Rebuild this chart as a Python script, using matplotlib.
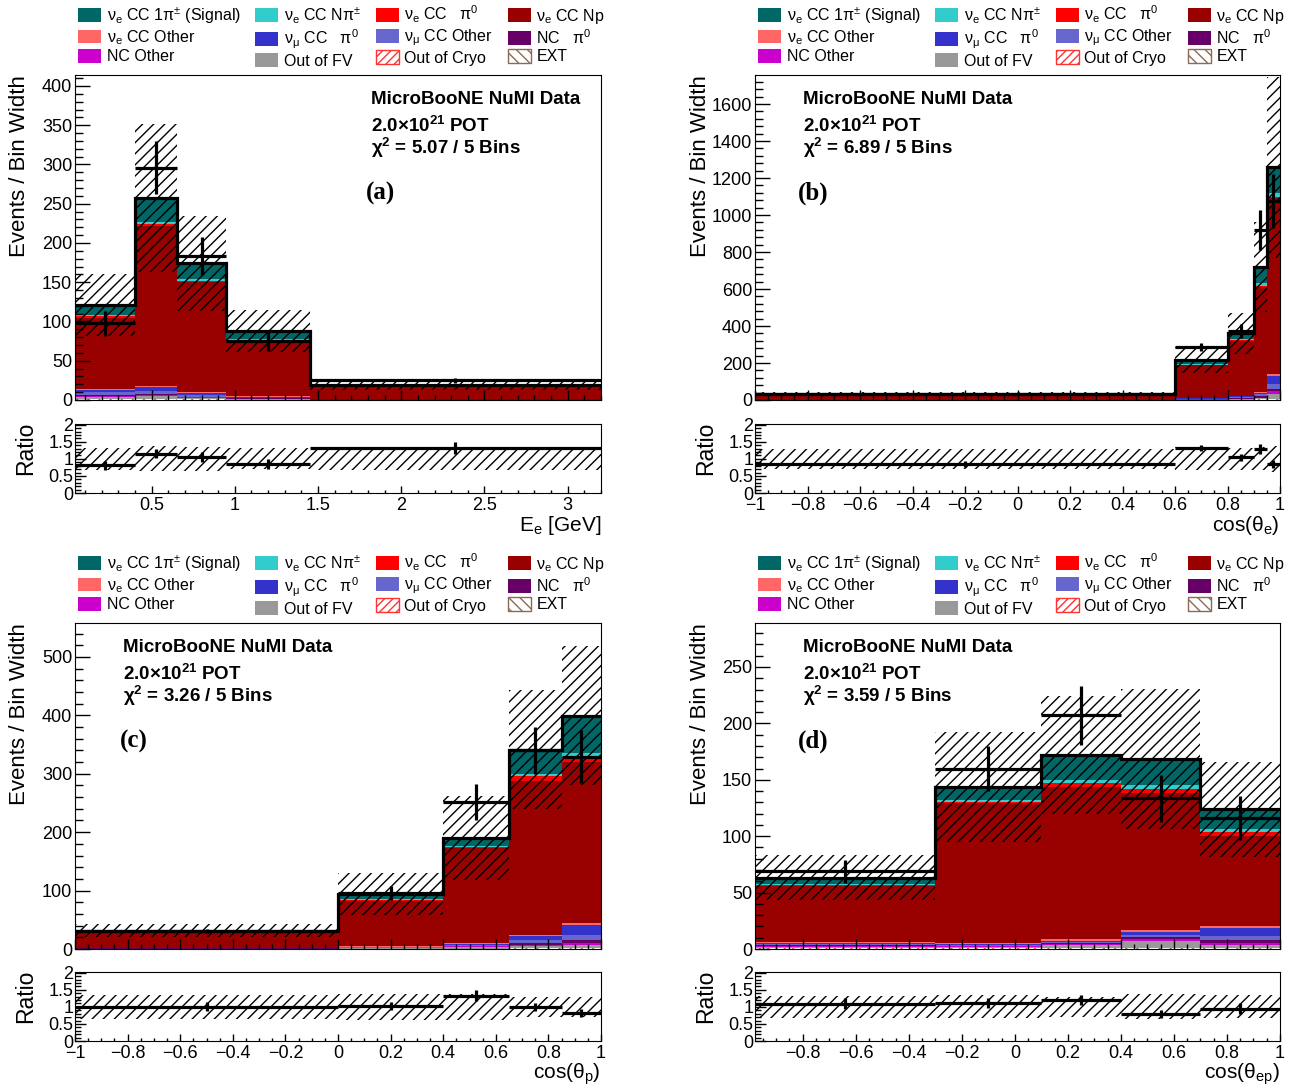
import numpy as np
import matplotlib
matplotlib.use('Agg')
import matplotlib.pyplot as plt
from matplotlib.patches import Patch
from matplotlib.ticker import MultipleLocator, FuncFormatter

plt.rcParams['font.family'] = ['Liberation Sans', 'DejaVu Sans']
plt.rcParams['mathtext.fontset'] = 'custom'
plt.rcParams['mathtext.rm'] = 'Liberation Sans'
plt.rcParams['mathtext.it'] = 'Liberation Sans:italic'
plt.rcParams['mathtext.bf'] = 'Liberation Sans:bold'
plt.rcParams['hatch.linewidth'] = 1.0

# ---------------- data ----------------
PANELS = ['a', 'b', 'c', 'd']
EDGES = [[0.04, 0.4, 0.65, 0.95, 1.45, 3.2],
         [-1.0, 0.6, 0.8, 0.9, 0.95, 1.0],
         [-1.0, 0.0, 0.4, 0.65, 0.85, 1.0],
         [-0.98, -0.3, 0.1, 0.4, 0.7, 1.0]]
XLABELS = [r'E$_{\rm e}$ [GeV]', r'cos(θ$_{\rm e}$)', r'cos(θ$_{\rm p}$)', r'cos(θ$_{\rm ep}$)']
CHI2 = ['5.07', '6.89', '3.26', '3.59']

# stacked MC components (rows: panels a-d, columns: bins)
EXT        = [[1.0, 1.0, 0.5, 0.3, 0.1], [0.3, 0.5, 1.0, 2.0, 5.0], [0.2, 0.3, 0.5, 1.0, 1.0], [0.4, 0.4, 0.5, 0.8, 0.8]]
OUT_CRYO   = [[0.5, 0.5, 0.3, 0.2, 0.1], [0.1, 0.3, 0.5, 1.0, 2.0], [0.1, 0.1, 0.3, 0.5, 0.5], [0.2, 0.2, 0.3, 0.4, 0.4]]
OUT_FV     = [[2.0, 3.0, 1.5, 0.5, 0.2], [0.4, 1.5, 3.0, 6.0, 25.0], [0.3, 0.6, 3.0, 4.0, 6.0], [1.5, 1.2, 2.5, 6.0, 2.0]]
NC_OTHER   = [[1.0, 1.5, 1.0, 0.5, 0.1], [0.2, 1.0, 2.0, 4.0, 15.0], [0.2, 0.4, 1.0, 1.5, 2.5], [0.5, 0.5, 1.0, 1.5, 2.0]]
NC_PI0     = [[1.5, 2.0, 1.0, 0.5, 0.2], [0.3, 1.2, 2.5, 6.0, 12.0], [0.3, 0.5, 1.0, 3.0, 6.0], [0.6, 0.5, 0.7, 1.5, 3.0]]
NUMU_OTHER = [[4.0, 4.0, 2.7, 1.0, 0.2], [0.4, 3.0, 6.0, 11.0, 30.0], [0.5, 1.2, 1.2, 6.0, 8.0], [1.0, 0.7, 1.2, 2.0, 3.0]]
NUMU_PI0   = [[3.0, 4.0, 2.0, 1.0, 0.1], [0.3, 2.5, 5.0, 10.0, 41.0], [0.4, 0.9, 1.0, 6.0, 17.0], [0.8, 0.5, 0.8, 2.8, 7.8]]
NUE_OTHER  = [[1.0, 1.5, 1.0, 0.5, 0.3], [0.5, 1.5, 2.0, 4.0, 8.0], [0.4, 0.8, 1.5, 2.0, 3.0], [0.8, 1.0, 1.5, 1.5, 1.5]]
NUE_NP     = [[91.0, 204.0, 140.0, 71.0, 15.5], [27.5, 177.0, 295.0, 568.0, 952.0], [25.6, 78.0, 163.0, 264.0, 276.0], [50.0, 124.5, 135.0, 121.5, 79.5]]
NUE_PI0    = [[1.5, 3.0, 2.0, 1.2, 0.3], [0.5, 3.0, 6.0, 7.0, 10.0], [0.5, 1.5, 2.0, 8.0, 8.0], [0.8, 1.0, 4.0, 4.0, 3.5]]
NUE_NPI    = [[1.5, 2.0, 2.0, 1.5, 0.4], [0.5, 4.0, 5.0, 15.0, 17.0], [0.5, 1.5, 2.0, 4.0, 7.0], [1.0, 1.5, 2.5, 3.0, 2.5]]
SIGNAL     = [[13.0, 30.5, 20.0, 9.8, 1.5], [4.0, 20.5, 32.0, 83.0, 141.0], [2.0, 8.2, 13.5, 41.0, 64.0], [5.6, 11.8, 22.0, 23.4, 17.7]]

MC_UNC   = [[39, 94, 61, 27, 6.3], [10.5, 72, 113, 243, 490], [11, 36, 72, 102, 119], [20, 48.7, 52, 62, 42]]
DATA     = [[97.7, 296, 183, 75, 25], [30, 286, 375, 919, 1077], [31, 96, 252, 340, 329], [68.8, 160, 207, 133.5, 116.5]]
DATA_ERR = [[16, 34, 24, 12, 3.5], [3, 20, 38, 110, 145], [4, 12, 31, 40, 45], [10, 20, 26, 21, 19.5]]

YMAX = [414, 1757, 558, 289]
YMAJOR = [50, 200, 100, 50]
XMAJOR = [0.5, 0.2, 0.2, 0.2]

LABELS = [r'EXT', r'Out of Cryo', r'Out of FV', r'NC Other', r'NC   π$^{0}$',
          r'ν$_{\rm μ}$ CC Other', r'ν$_{\rm μ}$ CC   π$^{0}$', r'ν$_{\rm e}$ CC Other',
          r'ν$_{\rm e}$ CC Np', r'ν$_{\rm e}$ CC   π$^{0}$', r'ν$_{\rm e}$ CC Nπ$^{\pm}$',
          r'ν$_{\rm e}$ CC 1π$^{\pm}$ (Signal)']
COLORS = ['white', 'white', '#999999', '#cc00cc', '#660066', '#6666cc', '#3333cc',
          '#ff6666', '#990000', '#ff0000', '#33cccc', '#006666']
HATCHES = ['\\\\\\', '////', None, None, None, None, None, None, None, None, None, None]
EDGECOLS = ['#8b6a55', '#ff3333'] + [None] * 10
COMPONENTS = [EXT, OUT_CRYO, OUT_FV, NC_OTHER, NC_PI0, NUMU_OTHER, NUMU_PI0,
              NUE_OTHER, NUE_NP, NUE_PI0, NUE_NPI, SIGNAL]
# legend order (column-major for a 4x3 grid read row-wise)
LEG_ORDER = [11, 7, 3, 10, 6, 2, 9, 5, 1, 8, 4, 0]

W, H = 1294, 1089
fig = plt.figure(figsize=(W / 100, H / 100), dpi=100)


def rect(x0, y0, x1, y1):
    return [x0 / W, 1 - y1 / H, (x1 - x0) / W, (y1 - y0) / H]


def gfmt(v, pos):
    s = '%g' % round(v, 6)
    return s.replace('-', '\u2212')


PLACE = {'a': (75, 601, 75, 400, 424, 493),
         'b': (755, 1280, 75, 400, 424, 493),
         'c': (75, 601, 623, 949, 972, 1041),
         'd': (755, 1280, 623, 949, 972, 1041)}
TEXT_X = {'a': 371, 'b': 803, 'c': 123, 'd': 803}
LETTER_X = {'a': 366, 'b': 798, 'c': 120, 'd': 798}

for i, p in enumerate(PANELS):
    x0, x1, yt, yb, rt, rb = PLACE[p]
    edges = np.array(EDGES[i])
    widths = np.diff(edges)
    centers = 0.5 * (edges[:-1] + edges[1:])
    ax = fig.add_axes(rect(x0, yt, x1, yb))
    axr = fig.add_axes(rect(x0, rt, x1, rb))

    bottom = np.zeros(5)
    handles = []
    for k, comp in enumerate(COMPONENTS):
        vals = np.array(comp[i], dtype=float)
        kw = dict(width=widths, bottom=bottom, align='edge', linewidth=0)
        if HATCHES[k]:
            ax.bar(edges[:-1], vals, facecolor='white', edgecolor=EDGECOLS[k], hatch=HATCHES[k], **kw)
            handles.append(Patch(facecolor='white', edgecolor=EDGECOLS[k], hatch=HATCHES[k], linewidth=1.0, label=LABELS[k]))
        else:
            ax.bar(edges[:-1], vals, color=COLORS[k], **kw)
            handles.append(Patch(facecolor=COLORS[k], edgecolor=COLORS[k], linewidth=0, label=LABELS[k]))
        bottom = bottom + vals
    mc = bottom
    unc = np.array(MC_UNC[i], dtype=float)
    data = np.array(DATA[i], dtype=float)
    derr = np.array(DATA_ERR[i], dtype=float)

    ax.bar(edges[:-1], 2 * unc, width=widths, bottom=mc - unc, align='edge',
           facecolor='none', edgecolor='black', hatch='///', linewidth=0, zorder=3)
    ax.stairs(mc, edges, color='black', linewidth=2.3, baseline=None, zorder=4)
    ax.errorbar(centers, data, xerr=widths / 2, yerr=derr, fmt='none', ecolor='black',
                elinewidth=2.3, capsize=0, zorder=5)
    ax.set_xlim(edges[0], edges[-1])
    ax.set_ylim(0, YMAX[i])
    ax.yaxis.set_major_locator(MultipleLocator(YMAJOR[i]))
    ax.yaxis.set_minor_locator(MultipleLocator(YMAJOR[i] / 5))
    ax.xaxis.set_major_locator(MultipleLocator(XMAJOR[i]))
    ax.xaxis.set_minor_locator(MultipleLocator(XMAJOR[i] / 4 if XMAJOR[i] < 0.5 else 0.1))
    ax.yaxis.set_major_formatter(FuncFormatter(gfmt))
    ax.tick_params(axis='y', which='major', direction='in', length=11, width=1, labelsize=13, pad=2)
    ax.tick_params(axis='y', which='minor', direction='in', length=5.5, width=1)
    ax.tick_params(axis='x', which='major', direction='in', length=7, width=1, labelbottom=False)
    ax.tick_params(axis='x', which='minor', direction='in', length=3.5, width=1)

    # ratio
    rel = unc / mc
    axr.bar(edges[:-1], 2 * rel, width=widths, bottom=1 - rel, align='edge',
            facecolor='none', edgecolor='black', hatch='///', linewidth=0, zorder=3)
    axr.errorbar(centers, data / mc, xerr=widths / 2, yerr=derr / mc, fmt='none',
                 ecolor='black', elinewidth=2.3, capsize=0, zorder=5)
    axr.set_xlim(edges[0], edges[-1])
    axr.set_ylim(0, 2.02)
    axr.yaxis.set_major_locator(MultipleLocator(0.5))
    axr.yaxis.set_minor_locator(MultipleLocator(0.1))
    axr.xaxis.set_major_locator(MultipleLocator(XMAJOR[i]))
    axr.xaxis.set_minor_locator(MultipleLocator(XMAJOR[i] / 4 if XMAJOR[i] < 0.5 else 0.1))
    axr.yaxis.set_major_formatter(FuncFormatter(gfmt))
    axr.xaxis.set_major_formatter(FuncFormatter(gfmt))
    axr.tick_params(axis='y', which='major', direction='in', length=8, width=1, labelsize=13, pad=1)
    axr.tick_params(axis='y', which='minor', direction='in', length=4, width=1)
    axr.tick_params(axis='x', which='major', direction='in', length=5, width=1, labelsize=13, pad=3)
    axr.tick_params(axis='x', which='minor', direction='in', length=2.5, width=1)

    # labels
    lx = x0 - 55
    fig.text(lx / W, 1 - yt / H, 'Events / Bin Width', rotation=90, ha='center', va='top', fontsize=16)
    fig.text((lx + 6) / W, 1 - (rt - 2) / H, 'Ratio', rotation=90, ha='center', va='top', fontsize=16.5)
    fig.text(x1 / W, 1 - (rb + 33) / H, XLABELS[i], ha='right', va='center', fontsize=15)

    tx = TEXT_X[p]
    fig.text(tx / W, 1 - (yt + 25) / H, 'MicroBooNE NuMI Data', ha='left', va='center', fontsize=13.5, fontweight='bold')
    fig.text(tx / W, 1 - (yt + 51) / H, r'2.0×10$^{\mathbf{21}}$ POT', ha='left', va='center', fontsize=13.5, fontweight='bold')
    fig.text(tx / W, 1 - (yt + 73) / H, r'χ$^{\mathbf{2}}$ = ' + CHI2[i] + ' / 5 Bins', ha='left', va='center', fontsize=13.5, fontweight='bold')
    fig.text(LETTER_X[p] / W, 1 - (yt + 118) / H, '(%s)' % p, ha='left', va='center', fontsize=18,
             fontweight='bold', family=['Liberation Serif', 'DejaVu Serif'])

    leg_handles = [handles[j] for j in LEG_ORDER]
    fig.legend(handles=leg_handles, loc='upper left', bbox_to_anchor=((x0 + 3) / W, 1 - (yt - 71) / H),
               ncol=4, frameon=False, fontsize=11.5, handlelength=1.45, handleheight=0.95,
               handletextpad=0.35, columnspacing=0.9, labelspacing=0.14, borderpad=0, borderaxespad=0)

fig.savefig('out.png', dpi=100)
